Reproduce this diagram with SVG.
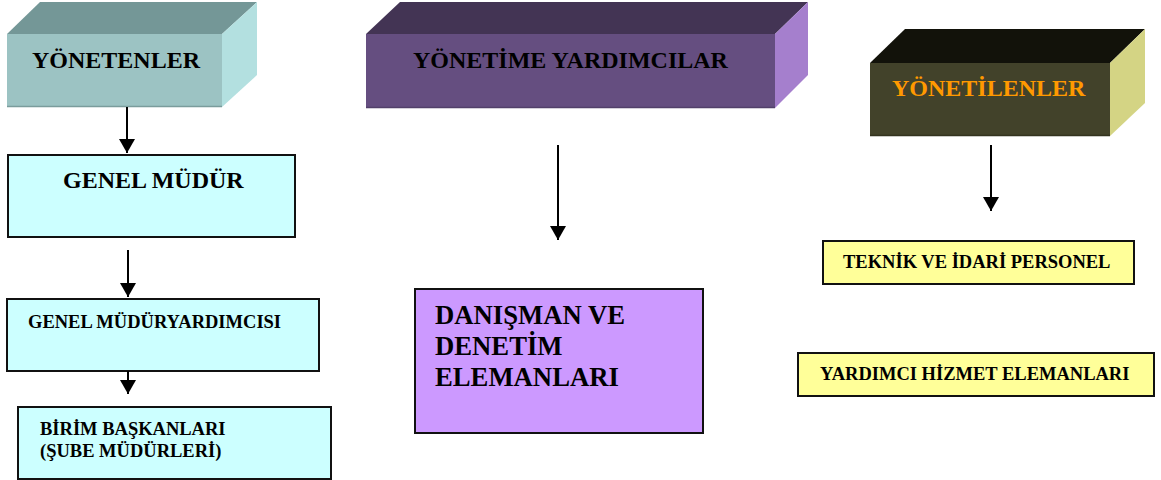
<svg xmlns="http://www.w3.org/2000/svg" width="1161" height="480" viewBox="0 0 1161 480">
<style>
  .t{font-family:"Liberation Serif","Times New Roman",serif;font-weight:bold;fill:#000}
  .big{font-size:24px}
  .sm{font-size:18.5px}
  .box{stroke:#111;stroke-width:2}
  .cyan{fill:#ccffff}
  .yel{fill:#ffff99}
  .pur{fill:#cc99ff}
  .conn{stroke:#000;stroke-width:2;fill:none;marker-end:url(#ah)}
</style>
<defs>
  <marker id="ah" viewBox="0 0 14 16" markerWidth="14" markerHeight="16" refX="14" refY="8" orient="auto" markerUnits="userSpaceOnUse">
    <path d="M0,0 L14,8 L0,16 z" fill="#000"/>
  </marker>
</defs>
<rect width="1161" height="480" fill="#fff"/>

<g id="yonetenler">
  <polygon points="7,34 40,2 257,2 222,34" fill="#749797"/>
  <polygon points="222,34 257,2 257,75 222,107" fill="#b3e0e0"/>
  <rect x="7" y="34" width="215" height="73" fill="#9cc3c3"/>
  <line x1="7" y1="106.5" x2="222" y2="106.5" stroke="#7a9c9c" stroke-width="1.5"/>
  <text class="t big" x="32" y="68">YÖNETENLER</text>
</g>

<g id="yonetime-yardimcilar">
  <polygon points="366,34 400,2 808,2 775,34" fill="#433454"/>
  <polygon points="775,34 808,2 808,75 775,108" fill="#a57fcd"/>
  <rect x="366" y="34" width="409" height="74" fill="#654e80"/>
  <line x1="366" y1="107.5" x2="775" y2="107.5" stroke="#52406a" stroke-width="1.5"/>
  <text class="t big" x="413" y="68">YÖNETİME YARDIMCILAR</text>
</g>

<g id="yonetilenler">
  <polygon points="870,63 905,29 1145,29 1110,63" fill="#12120a"/>
  <polygon points="1110,63 1145,29 1145,103 1110,136" fill="#d4d484"/>
  <rect x="870" y="63" width="240" height="73" fill="#42422a"/>
  <line x1="870" y1="135.5" x2="1110" y2="135.5" stroke="#33331f" stroke-width="1.5"/>
  <text class="t big" x="892" y="96" fill="#ff9900" style="fill:#ff9900">YÖNETİLENLER</text>
</g>

<g id="genel-mudur">
  <rect class="box cyan" x="8" y="155" width="287" height="82"/>
  <text class="t big" x="63" y="188">GENEL MÜDÜR</text>
</g>

<g id="genel-mudur-yardimcisi">
  <rect class="box cyan" x="7" y="299" width="312" height="72"/>
  <text class="t sm" x="28" y="328">GENEL MÜDÜRYARDIMCISI</text>
</g>

<g id="birim-baskanlari">
  <rect class="box cyan" x="18" y="407" width="313" height="72"/>
  <text class="t sm" x="40" y="435">BİRİM BAŞKANLARI</text>
  <text class="t sm" x="40" y="457">(ŞUBE MÜDÜRLERİ)</text>
</g>

<g id="danisman">
  <rect class="box pur" x="415" y="289" width="288" height="144"/>
  <text class="t" style="font-size:26.7px" x="435" y="324">DANIŞMAN VE</text>
  <text class="t" style="font-size:26.7px" x="435" y="355">DENETİM</text>
  <text class="t" style="font-size:26.7px" x="435" y="386">ELEMANLARI</text>
</g>

<g id="teknik-idari">
  <rect class="box yel" x="823" y="241" width="311" height="43"/>
  <text class="t sm" x="843" y="268">TEKNİK VE İDARİ PERSONEL</text>
</g>

<g id="yardimci-hizmet">
  <rect class="box yel" x="798" y="353" width="356" height="43"/>
  <text class="t sm" x="820" y="380">YARDIMCI HİZMET ELEMANLARI</text>
</g>

<g id="connectors">
  <line class="conn" x1="127" y1="107" x2="127" y2="153"/>
  <line class="conn" x1="128" y1="250" x2="128" y2="297"/>
  <line class="conn" x1="128" y1="371" x2="128" y2="394"/>
  <line class="conn" x1="558" y1="145" x2="558" y2="240"/>
  <line class="conn" x1="991" y1="145" x2="991" y2="211"/>
</g>
</svg>
